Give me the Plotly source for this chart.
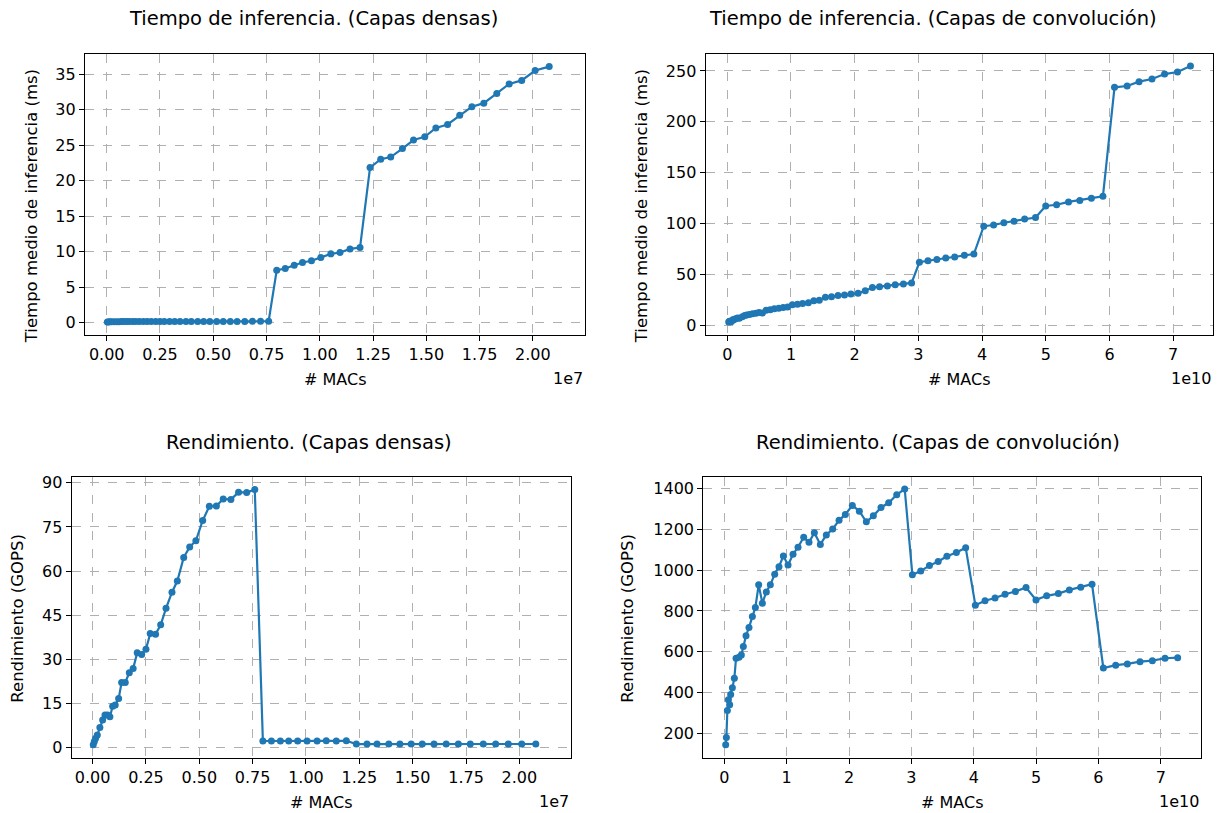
import plotly.graph_objects as go

# ---------------- data ----------------
# Dense layers: MACs (x 1e7)
dense_macs = [0.003, 0.008, 0.014, 0.022, 0.034, 0.047, 0.058, 0.070, 0.081, 0.094,
              0.106, 0.122, 0.136, 0.153, 0.172, 0.190, 0.209, 0.230, 0.250, 0.270,
              0.295, 0.319, 0.344, 0.372, 0.397, 0.427, 0.455, 0.484, 0.516, 0.547,
              0.580, 0.612, 0.648, 0.684, 0.722, 0.760, 0.798, 0.838, 0.880, 0.919,
              0.961, 1.005, 1.052, 1.095, 1.142, 1.189, 1.236, 1.286, 1.333, 1.388,
              1.440, 1.493, 1.545, 1.600, 1.657, 1.714, 1.770, 1.831, 1.889, 1.948,
              2.011, 2.077]
# Dense layers: mean inference time (ms)
dense_time = [0.067, 0.080, 0.090, 0.105, 0.100, 0.101, 0.105, 0.127, 0.156, 0.134,
              0.147, 0.147, 0.123, 0.138, 0.135, 0.142, 0.130, 0.146, 0.150, 0.140,
              0.153, 0.153, 0.145, 0.141, 0.140, 0.132, 0.133, 0.138, 0.134, 0.133,
              0.141, 0.145, 0.154, 0.158, 0.167, 0.173, 7.37, 7.60, 8.07, 8.45,
              8.69, 9.15, 9.67, 9.86, 10.37, 10.56, 21.83, 23.00, 23.30, 24.50,
              25.70, 26.15, 27.40, 27.90, 29.20, 30.40, 30.90, 32.25, 33.60, 34.10,
              35.50, 36.05]
# Dense layers: performance (GOPS)
dense_gops = [0.9, 2.0, 3.1, 4.2, 6.8, 9.3, 11.0, 11.0, 10.4, 14.0,
              14.4, 16.6, 22.1, 22.1, 25.4, 26.8, 32.2, 31.6, 33.4, 38.7,
              38.5, 41.7, 47.3, 52.8, 56.6, 64.6, 68.2, 70.3, 77.2, 82.0,
              82.1, 84.5, 84.3, 86.8, 86.7, 87.7, 2.17, 2.21, 2.18, 2.18,
              2.21, 2.20, 2.18, 2.22, 2.20, 2.25, 1.13, 1.12, 1.14, 1.13,
              1.12, 1.14, 1.13, 1.15, 1.13, 1.13, 1.15, 1.14, 1.12, 1.14,
              1.13, 1.15]

# Convolution layers: MACs (x 1e10)
conv_macs = [0.022, 0.033, 0.049, 0.065, 0.086, 0.102, 0.129, 0.161, 0.188, 0.236,
             0.273, 0.305, 0.348, 0.396, 0.450, 0.498, 0.551, 0.610, 0.674, 0.738,
             0.808, 0.877, 0.947, 1.022, 1.102, 1.182, 1.273, 1.358, 1.444, 1.540,
             1.636, 1.738, 1.840, 1.941, 2.053, 2.166, 2.278, 2.390, 2.513, 2.636,
             2.765, 2.893, 3.016, 3.150, 3.290, 3.430, 3.570, 3.722, 3.871, 4.026,
             4.181, 4.342, 4.502, 4.668, 4.839, 4.999, 5.170, 5.357, 5.534, 5.716,
             5.897, 6.079, 6.277, 6.464, 6.667, 6.865, 7.068, 7.271]
# Convolution layers: mean inference time (ms)
conv_time = [3.06, 3.67, 3.14, 3.57, 5.06, 5.23, 6.10, 6.85, 6.62, 8.24,
             9.35, 9.76, 10.27, 11.02, 11.64, 12.19, 11.88, 14.56, 15.10, 15.91,
             16.49, 17.25, 17.72, 19.94, 20.45, 21.26, 21.93, 23.91, 24.41, 27.35,
             27.92, 28.94, 29.58, 30.50, 31.18, 33.61, 36.83, 37.76, 38.45, 39.64,
             40.39, 41.39, 61.74, 63.25, 64.38, 65.83, 66.85, 68.55, 69.75, 97.25,
             98.38, 100.63, 102.09, 104.31, 105.77, 117.07, 118.31, 121.06, 122.57, 124.80,
             126.68, 233.81, 235.09, 239.41, 242.00, 246.90, 248.90, 254.70]
# Convolution layers: performance (GOPS)
conv_gops = [144, 180, 312, 364, 340, 390, 423, 470, 568, 573,
             584, 625, 678, 719, 773, 817, 928, 838, 893, 928,
             980, 1017, 1069, 1025, 1078, 1112, 1161, 1136, 1183, 1126,
             1172, 1201, 1244, 1273, 1317, 1289, 1237, 1266, 1307, 1330,
             1369, 1398, 977, 996, 1022, 1042, 1068, 1086, 1110, 828,
             850, 863, 882, 895, 915, 854, 874, 885, 903, 916,
             931, 520, 534, 540, 551, 556, 568, 571]

titles = ["Tiempo de inferencia. (Capas densas)",
          "Tiempo de inferencia. (Capas de convolución)",
          "Rendimiento. (Capas densas)",
          "Rendimiento. (Capas de convolución)"]
ylabels = ["Tiempo medio de inferencia (ms)", "Tiempo medio de inferencia (ms)",
           "Rendimiento (GOPS)", "Rendimiento (GOPS)"]
xlabel = "# MACs"
dense_xticks = [0, 0.25, 0.5, 0.75, 1.0, 1.25, 1.5, 1.75, 2.0, 2.25]
conv_xticks = [0, 1, 2, 3, 4, 5, 6, 7]

# ---------------- layout geometry (pixels) ----------------
W, H = 1223, 813
boxes = [  # left, right, top, bottom
    (85, 585, 51, 333),
    (705.7, 1213, 51, 333),
    (71.7, 571, 475.7, 757.3),
    (703.3, 1201, 475.7, 757.3),
]
title_cx = [313, 933, 309, 938]
ylab_x = [31, 641, 18, 628]
ylab_cy = [204, 204, 618, 618]
xranges = [[-0.102, 2.245], [-0.339, 7.625], [-0.098, 2.242], [-0.337, 7.645]]
yranges = [[-1.73, 37.85], [-9.6, 266.8], [-3.44, 92.0], [81.5, 1456.6]]
yticks = [list(range(0, 36, 5)), list(range(0, 251, 50)),
          list(range(0, 91, 15)), list(range(200, 1401, 200))]
xticks = [dense_xticks, conv_xticks, dense_xticks, conv_xticks]
xfmt = [".2f", "d", ".2f", "d"]
exps = ["1e7", "1e10", "1e7", "1e10"]

series = [(dense_macs, dense_time), (conv_macs, conv_time),
          (dense_macs, dense_gops), (conv_macs, conv_gops)]

FONT = "DejaVu Sans, Liberation Sans, sans-serif"
BLUE = "#1f77b4"

fig = go.Figure()
annotations = []
layout = dict(width=W, height=H, margin=dict(l=0, r=0, t=0, b=0),
              paper_bgcolor="white", plot_bgcolor="white", showlegend=False,
              font=dict(family=FONT, size=16, color="black"))

for i, ((xs, ys), (l, r, t, b)) in enumerate(zip(series, boxes)):
    n = "" if i == 0 else str(i + 1)
    fig.add_trace(go.Scatter(x=xs, y=ys, mode="lines+markers",
                             line=dict(color=BLUE, width=2.2),
                             marker=dict(color=BLUE, size=7),
                             xaxis="x" + n, yaxis="y" + n, hoverinfo="x+y"))
    common = dict(showline=True, mirror=True, linecolor="black", linewidth=1.2,
                  ticks="outside", ticklen=5, tickwidth=1.2, tickcolor="black",
                  showgrid=True, gridcolor="#b0b0b0", griddash="dash", gridwidth=1,
                  zeroline=False, tickfont=dict(family=FONT, size=16, color="black"))
    layout["xaxis" + n] = dict(domain=[l / W, r / W], range=xranges[i], anchor="y" + n,
                               tickvals=xticks[i], tickformat=xfmt[i], **common)
    layout["yaxis" + n] = dict(domain=[1 - b / H, 1 - t / H], range=yranges[i], anchor="x" + n,
                               tickvals=yticks[i], **common)
    cx = (l + r) / 2 / W
    annotations.append(dict(text=titles[i], x=title_cx[i] / W, y=1 - (t - 35) / H,
                            xref="paper", yref="paper",
                            xanchor="center", yanchor="middle", showarrow=False,
                            font=dict(family=FONT, size=19.5, color="black")))
    annotations.append(dict(text=xlabel, x=cx, y=1 - (b + 45) / H, xref="paper", yref="paper",
                            xanchor="center", yanchor="middle", showarrow=False,
                            font=dict(family=FONT, size=16, color="black")))
    annotations.append(dict(text=exps[i], x=r / W, y=1 - (b + 44) / H, xref="paper", yref="paper",
                            xanchor="right", yanchor="middle", showarrow=False,
                            font=dict(family=FONT, size=16, color="black")))
    annotations.append(dict(text=ylabels[i], x=ylab_x[i] / W, y=1 - ylab_cy[i] / H,
                            xref="paper", yref="paper", textangle=-90,
                            xanchor="center", yanchor="middle", showarrow=False,
                            font=dict(family=FONT, size=16.5, color="black")))

layout["annotations"] = annotations
fig.update_layout(**layout)
fig.write_html("out.html", config={"displayModeBar": False},
               post_script="document.body.style.margin='0';document.body.style.overflow='hidden';")
